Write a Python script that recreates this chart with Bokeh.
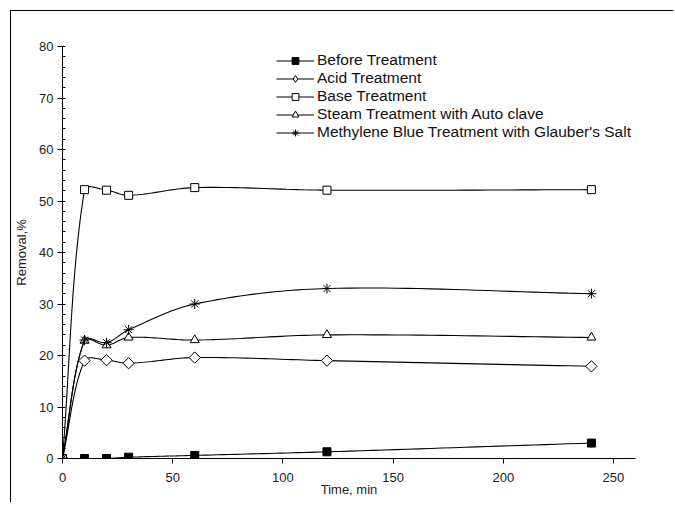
import numpy as np
from bokeh.plotting import figure
from bokeh.models import Legend, LegendItem, FixedTicker, Range1d
from bokeh.embed import file_html
from bokeh.resources import INLINE

time_min = [0, 10, 20, 30, 60, 120, 240]
before = [0, 0, 0, 0.25, 0.6, 1.3, 3.0]
acid = [0, 19.0, 19.1, 18.5, 19.6, 19.0, 17.9]
base = [0, 52.2, 52.1, 51.1, 52.6, 52.1, 52.2]
steam = [0, 22.9, 22.0, 23.5, 23.0, 24.0, 23.5]
mb = [0, 23.0, 22.5, 25.0, 30.0, 33.0, 32.0]
series_names = ["Before Treatment", "Acid Treatment", "Base Treatment",
                "Steam Treatment with Auto clave",
                "Methylene Blue Treatment with Glauber's Salt"]
x_ticks = [0, 50, 100, 150, 200, 250]
y_ticks = [0, 10, 20, 30, 40, 50, 60, 70, 80]

W, H = 663, 492
BL, BR, BT, BB = 51, 39, 35, 45
XMAX, YMAX = 260, 80
fw, fh = W - BL - BR, H - BT - BB
sx, sy = fw / XMAX, fh / YMAX


def smooth(xs, ys, n=24):
    # Excel-like smoothed line, computed in screen space
    P = np.column_stack([np.array(xs, float) * sx, np.array(ys, float) * sy])
    m = len(P)
    out = [P[0]]
    for i in range(m - 1):
        p0 = P[i - 1] if i > 0 else P[i]
        p1, p2 = P[i], P[i + 1]
        p3 = P[i + 2] if i + 2 < m else P[i + 1]
        d01 = np.hypot(*(p1 - p0)); d12 = np.hypot(*(p2 - p1)); d23 = np.hypot(*(p3 - p2))
        f1 = d12 / (d01 + d12) / 3 if d01 + d12 > 0 else 0
        f2 = d12 / (d12 + d23) / 3 if d12 + d23 > 0 else 0
        c1 = p1 + (p2 - p0) * f1
        c2 = p2 - (p3 - p1) * f2
        t = np.linspace(0, 1, n)[1:, None]
        pts = ((1 - t) ** 3) * p1 + 3 * ((1 - t) ** 2) * t * c1 + 3 * (1 - t) * t ** 2 * c2 + t ** 3 * p2
        out.extend(pts)
    out = np.array(out)
    return out[:, 0] / sx, out[:, 1] / sy


p = figure(width=W, height=H, output_backend="svg", toolbar_location=None,
           x_range=Range1d(0, XMAX), y_range=Range1d(0, YMAX),
           min_border_left=BL, min_border_right=BR, min_border_top=BT, min_border_bottom=BB)
# outer chart border: only its top and left edges fall inside the picture
p.styles = {"border-top": "1px solid black", "border-left": "1px solid black",
            "border-right": "0px none", "border-bottom": "0px none",
            "outline": "none", "box-shadow": "none",
            "margin-left": "10px", "margin-top": "10px"}
p.outline_line_color = None
p.xgrid.visible = False
p.ygrid.visible = False
p.background_fill_color = "white"
p.border_fill_color = "white"

FONT = "Liberation Sans"
for ax in (p.xaxis[0], p.yaxis[0]):
    ax.axis_line_color = "black"
    ax.major_tick_line_color = "black"
    ax.major_label_text_font = FONT
    ax.major_label_text_font_size = "13px"
    ax.major_label_text_color = "#222222"
    ax.axis_label_text_font = FONT
    ax.axis_label_text_font_size = "13px"
    ax.axis_label_text_font_style = "normal"
    ax.axis_label_text_color = "#222222"
    ax.major_tick_out = 5
    ax.major_tick_in = 0

p.xaxis.ticker = FixedTicker(ticks=x_ticks)
p.xaxis.minor_tick_line_color = None
p.xaxis.axis_label = "Time, min"
p.xaxis.major_label_standoff = 9
p.xaxis.axis_label_standoff = -3

p.yaxis.ticker = FixedTicker(ticks=y_ticks, minor_ticks=list(range(0, 81, 2)))
p.yaxis.minor_tick_line_color = "black"
p.yaxis.minor_tick_in = 3
p.yaxis.minor_tick_out = 0
p.yaxis.axis_label = "Removal,%"
p.yaxis.major_label_standoff = 4
p.yaxis.axis_label_standoff = 7

data = [before, acid, base, steam, mb]
markers = ["square", "square", "square", "triangle", "asterisk"]
legend_markers = ["square", "diamond", "square", "triangle", "asterisk"]
angles = [0, np.pi / 4, 0, 0, 0]
sizes = [8, 8, 8, 9, 10]
fills = ["black", "white", "white", "white", "white"]

items = []
for name, ys, mk, lmk, ang, sz, fc in zip(series_names, data, markers, legend_markers,
                                          angles, sizes, fills):
    cx, cy = smooth(time_min, ys)
    l = p.line(cx, cy, line_color="black", line_width=1.1)
    leg_r = None
    if lmk != mk:
        # drawn underneath the visible marker; it supplies the legend's glyph
        leg_r = p.scatter(time_min, ys, marker=lmk, size=7, fill_color=fc,
                          line_color="black", line_width=1)
    s = p.scatter(time_min, ys, marker=mk, angle=ang, size=sz, fill_color=fc,
                  line_color="black", line_width=1)
    items.append(LegendItem(label=name, renderers=[l, leg_r or s]))

legend = Legend(items=items, location=(214, 317), orientation="vertical",
                background_fill_alpha=0, border_line_alpha=0, padding=0, margin=0,
                spacing=0, glyph_width=38, glyph_height=17, label_height=17,
                label_standoff=3, label_text_font=FONT, label_text_font_size="15.5px",
                label_text_color="#111111")
p.add_layout(legend)

open("out.html", "w").write(file_html(p, INLINE))
